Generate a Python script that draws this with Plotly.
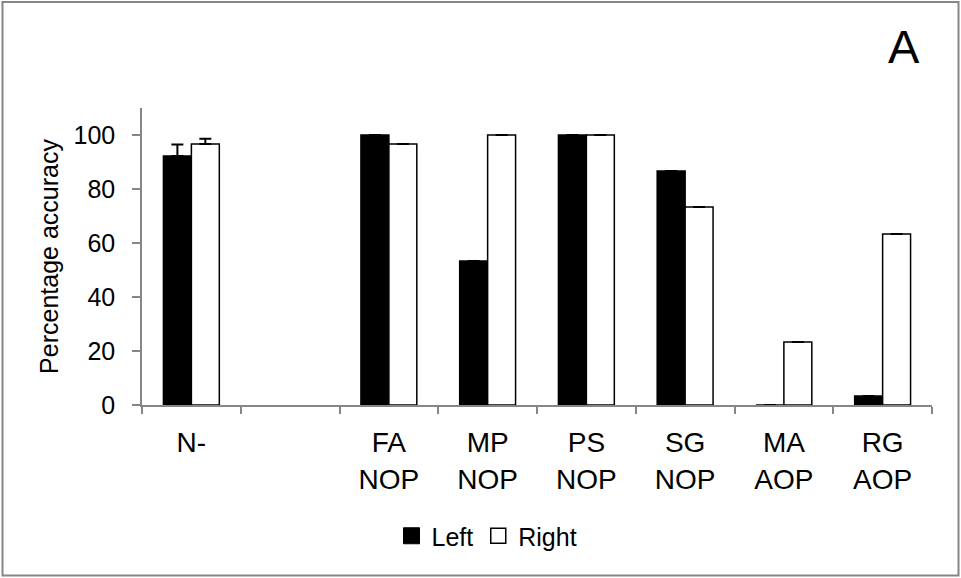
import plotly.graph_objects as go

# Categories (second slot is an empty spacer column)
categories = ["N-", " ", "FA<br>NOP", "MP<br>NOP", "PS<br>NOP", "SG<br>NOP", "MA<br>AOP", "RG<br>AOP"]
left_values = [92.2, None, 100, 53.3, 100, 86.7, 0, 3.3]
right_values = [96.7, None, 96.7, 100, 100, 73.3, 23.3, 63.3]
left_err = [4.3, None, None, None, None, None, None, None]
right_err = [1.9, None, None, None, None, None, None, None]
y_ticks = [0, 20, 40, 60, 80, 100]

FONT = "Liberation Sans, Arial, sans-serif"
AXIS_GREY = "#868686"

fig = go.Figure()

fig.add_trace(go.Bar(
    x=categories, y=left_values, name="Left",
    marker=dict(color="black", line=dict(color="black", width=1.5)),
    error_y=dict(type="data", array=left_err, arrayminus=[0] * len(left_err),
                 symmetric=False, color="black", thickness=2, width=6),
    showlegend=False,
))
fig.add_trace(go.Bar(
    x=categories, y=right_values, name="Right",
    marker=dict(color="white", line=dict(color="black", width=1.5)),
    error_y=dict(type="data", array=right_err, arrayminus=[0] * len(right_err),
                 symmetric=False, color="black", thickness=2, width=6),
    showlegend=False,
))

# Legend entries with larger square swatches
fig.add_trace(go.Scatter(
    x=[None], y=[None], mode="markers", name="Left",
    marker=dict(symbol="square", size=16, color="black", line=dict(color="black", width=1)),
))
fig.add_trace(go.Scatter(
    x=[None], y=[None], mode="markers", name="Right",
    marker=dict(symbol="square", size=15, color="white", line=dict(color="black", width=1.5)),
))

W, H = 961, 578
ML, MR, MT, MB = 142, 29, 108, 173
pw, ph = W - ML - MR, H - MT - MB


def px(x):
    return (x - ML) / pw


def py(y):
    return (H - MB - y) / ph


fig.update_layout(
    width=W, height=H,
    margin=dict(l=ML, r=MR, t=MT, b=MB, autoexpand=False),
    template="none",
    paper_bgcolor="white", plot_bgcolor="white",
    font=dict(family=FONT, color="black", size=25),
    barmode="group", bargap=0.434, bargroupgap=0,
    legend=dict(
        orientation="h", x=px(487), y=py(536), xanchor="center", yanchor="middle",
        font=dict(size=25, family=FONT), itemwidth=30, bgcolor="rgba(0,0,0,0)",
        tracegroupgap=0, itemsizing="trace",
    ),
    xaxis=dict(
        type="category", categoryorder="array", categoryarray=categories,
        showline=True, linecolor=AXIS_GREY, linewidth=1.5,
        ticks="outside", tickson="boundaries", ticklen=7, tickcolor=AXIS_GREY, tickwidth=1.5,
        tickfont=dict(size=28, family=FONT), ticklabelstandoff=12,
        showgrid=False, zeroline=False, automargin=False,
    ),
    yaxis=dict(
        range=[0, 110], tickvals=y_ticks,
        showline=True, linecolor=AXIS_GREY, linewidth=1.5,
        ticks="outside", ticklen=8, tickcolor=AXIS_GREY, tickwidth=1.5,
        tickfont=dict(size=25, family=FONT), ticklabelstandoff=12,
        title=dict(text="Percentage accuracy", font=dict(size=25, family=FONT), standoff=8),
        showgrid=False, zeroline=False, automargin=False,
    ),
    shapes=[dict(
        type="rect", xref="paper", yref="paper",
        x0=px(2.5), x1=px(958.5), y0=py(575.5), y1=py(2),
        line=dict(color=AXIS_GREY, width=2), fillcolor="rgba(0,0,0,0)", layer="below",
    )],
    annotations=[dict(
        text="A", xref="paper", yref="paper", x=px(904), y=py(46),
        xanchor="center", yanchor="middle", showarrow=False,
        font=dict(size=47, family=FONT, color="black"),
    )],
)

fig.write_html("out.html")
